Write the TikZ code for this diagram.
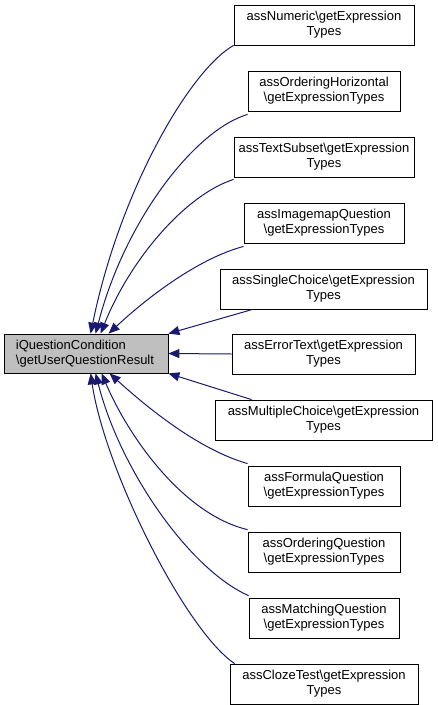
\documentclass[tikz,border=0pt]{standalone}
\usepackage{fontspec}
\setmainfont{Liberation Sans}
\usetikzlibrary{arrows.meta,calc}
\definecolor{edgeblue}{RGB}{25,25,112}
\definecolor{maingray}{RGB}{191,191,191}
\begin{document}
\begin{tikzpicture}[x=1pt,y=-1pt,
  box/.style={draw=black,line width=0.8pt,fill=white,minimum height=40pt,inner sep=0pt,align=center,
    font=\fontsize{13}{15}\selectfont},
  mainbox/.style={draw=black,line width=0.8pt,fill=maingray,minimum height=39pt,inner ysep=0pt,inner xsep=12pt,
    text width=140pt,align=left,font=\fontsize{13}{15}\selectfont},
  edge/.style={draw=edgeblue,line width=1pt,-{Triangle[length=11pt,width=9pt]}}]
\useasboundingbox (0,0) rectangle (437,705);
\node[mainbox] (main) at (86,353.5) {iQuestionCondition\\\textbackslash getUserQuestionResult};
\node[box,minimum width=180pt] (n1) at (324,25) {assNumeric\textbackslash getExpression\\Types};
\node[box,minimum width=152pt] (n2) at (324,91) {assOrderingHorizontal\\\textbackslash getExpressionTypes};
\node[box,minimum width=180pt] (n3) at (324,157) {assTextSubset\textbackslash getExpression\\Types};
\node[box,minimum width=160pt] (n4) at (324,223) {assImagemapQuestion\\\textbackslash getExpressionTypes};
\node[box,minimum width=207pt] (n5) at (323.5,289) {assSingleChoice\textbackslash getExpression\\Types};
\node[box,minimum width=183pt] (n6) at (323.5,354) {assErrorText\textbackslash getExpression\\Types};
\node[box,minimum width=217pt] (n7) at (323.5,420) {assMultipleChoice\textbackslash getExpression\\Types};
\node[box,minimum width=152pt] (n8) at (324,486) {assFormulaQuestion\\\textbackslash getExpressionTypes};
\node[box,minimum width=152pt] (n9) at (324,552) {assOrderingQuestion\\\textbackslash getExpressionTypes};
\node[box,minimum width=150pt] (n10) at (324,618) {assMatchingQuestion\\\textbackslash getExpressionTypes};
\node[box,minimum width=188pt] (n11) at (324,684) {assClozeTest\textbackslash getExpression\\Types};
% top edges
\draw[edge] (n1.south west) .. controls (190,70) and (120,190) .. ([xshift=87pt]main.north west);
\draw[edge] ([yshift=-3pt]n2.south west) .. controls (195,130) and (125,220) .. ([xshift=92pt]main.north west);
\draw[edge] ([yshift=-2pt]n3.south west) .. controls (185,195) and (130,260) .. ([xshift=97pt]main.north west);
\draw[edge] ([yshift=-3pt]n4.south west) .. controls (200,258) and (150,295) .. ([xshift=105pt]main.north west);
\draw[edge] ([xshift=33pt]n5.south west) -- (main.north east);
\draw[edge] (n6.west) -- (main.east);
\draw[edge] ([xshift=37pt]n7.north west) -- (main.south east);
% bottom edges
\draw[edge] ([yshift=2pt]n8.north west) .. controls (200,450) and (150,410) .. ([xshift=106pt]main.south west);
\draw[edge] ([yshift=2pt]n9.north west) .. controls (185,515) and (130,440) .. ([xshift=98pt]main.south west);
\draw[edge] ([yshift=2pt]n10.north west) .. controls (190,570) and (120,470) .. ([xshift=92pt]main.south west);
\draw[edge] ([xshift=5pt]n11.north west) .. controls (185,630) and (105,470) .. ([xshift=87pt]main.south west);
\end{tikzpicture}
\end{document}
